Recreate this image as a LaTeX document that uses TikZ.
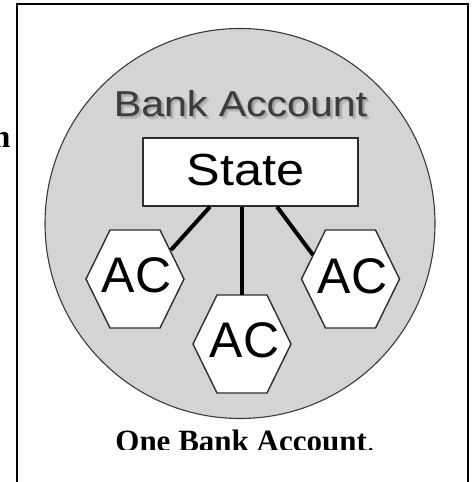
\documentclass[tikz,border=0pt]{standalone}
\usepackage{fontspec}
\setmainfont{Liberation Serif}
\newfontfamily\helv{Liberation Sans}
\usepackage{graphicx}
\definecolor{circfill}{HTML}{D4D4D4}
\definecolor{circline}{HTML}{3A3A3A}
\definecolor{titlegray}{HTML}{3C3C3C}
\definecolor{shadowA}{HTML}{9C9C9C}
\definecolor{shadowB}{HTML}{B6B6B6}
\definecolor{boxline}{HTML}{2E2E2E}
\tikzset{
  frameline/.style={line width=2pt, black},
  acctcircle/.style={circle, draw=circline, fill=circfill, line width=1.1pt, minimum size=390pt, inner sep=0pt},
  titletext/.style={anchor=base, inner sep=0pt, text=titlegray, font=\helv\fontsize{36}{40}\selectfont},
  statebox/.style={draw=boxline, fill=white, line width=1.5pt, minimum width=215pt, minimum height=68pt, inner sep=0pt,
    text height=30pt, text depth=4pt, font=\helv\fontsize{45}{50}\selectfont},
  hexline/.style={draw=boxline, fill=white, line width=1.4pt, line join=miter},
  actext/.style={anchor=base, inner sep=0pt, font=\helv\fontsize{50}{55}\selectfont},
  conn/.style={line width=4pt, black},
  captext/.style={anchor=base, inner sep=0pt, font=\fontsize{31}{36}\selectfont},
}
\newcommand\hexpath[1]{\path[hexline] (#1) +(-49,0) -- +(-25,-49) -- +(25,-49) -- +(49,0) -- +(25,49) -- +(-25,49) -- cycle;}
\newcommand\banktitle{\scalebox{1.14}[1]{Bank Account}}
\begin{document}
\begin{tikzpicture}[x=1pt,y=-1pt]
\useasboundingbox (0,0) rectangle (473,482);
\fill[white] (0,0) rectangle (473,482);
% cut-off word at left
\node[anchor=base east, inner sep=0pt, font=\bfseries\fontsize{32}{36}\selectfont] (cutn) at (10.5,147) {n};
% frame
\draw[frameline] (17,482) -- (17,4) -- (468,4) -- (468,482);
% account circle
\node[acctcircle] (acct) at (240,223.5) {};
% title with soft shadow (one node)
\node[titletext] (title) at (240.5,116) {%
  \makebox[0pt][l]{\hspace{3pt}\raisebox{-3pt}{\color{shadowB}\banktitle}}%
  \makebox[0pt][l]{\hspace{1.5pt}\raisebox{-1.5pt}{\color{shadowA}\banktitle}}%
  \banktitle};
% state box
\node[statebox] (state) at (250.5,172) {\hspace*{-10pt}\scalebox{1.12}[1]{State}};
% hexagons
\coordinate (h1) at (135,279);
\coordinate (h2) at (242,344);
\coordinate (h3) at (350.5,279);
\hexpath{h1}
\hexpath{h2}
\hexpath{h3}
\node[actext] (ac1) at (136.5,292) {AC};
\node[actext] (ac2) at (244.5,357) {AC};
\node[actext] (ac3) at (352.5,293) {AC};
% connector ends on hexagon borders
\coordinate (e1) at (171,250);
\coordinate (e2) at (242,295);
\coordinate (e3) at (313,255);
\draw[conn] ([xshift=-40.5pt]state.south) -- (e1);
\draw[conn] ([xshift=-8.5pt]state.south) -- (e2);
\draw[conn] ([xshift=26.5pt]state.south) -- (e3);
% caption
\begin{scope}
\clip (0,0) rectangle (473,449.5);
\node[captext] (cap) at (245,451) {\textbf{One Bank Account}.};
\end{scope}
\end{tikzpicture}
\end{document}
